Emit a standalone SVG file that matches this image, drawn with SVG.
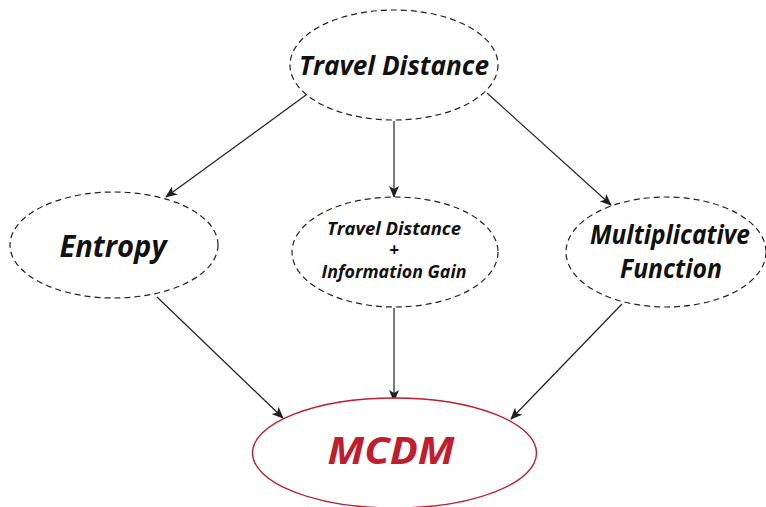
<svg xmlns="http://www.w3.org/2000/svg" width="766" height="507" viewBox="0 0 766 507">
  <style>
    .node { fill: #ffffff; stroke: #231f20; stroke-width: 1.2; stroke-dasharray: 6 4; }
    .final { fill: #ffffff; stroke: #be1e2d; stroke-width: 1.4; }
    .lbl { font-family: "Open Sans", "Noto Sans", sans-serif; font-weight: bold; font-style: italic; fill: #111111; text-anchor: middle; }
    .red { fill: #be1e2d; }
    .edge { stroke: #231f20; stroke-width: 1.2; fill: none; marker-end: url(#arrow); }
  </style>
  <defs>
    <marker id="arrow" viewBox="0 0 12 10" refX="11" refY="5" markerWidth="12" markerHeight="10" markerUnits="userSpaceOnUse" orient="auto">
      <path d="M0,0 L12,5 L0,10 L3,5 Z" fill="#231f20"/>
    </marker>
  </defs>
  <rect width="766" height="507" fill="#ffffff"/>

  <g id="connectors">
    <line class="edge" x1="306" y1="95" x2="166" y2="197"/>
    <line class="edge" x1="394" y1="121" x2="394" y2="197"/>
    <line class="edge" x1="487" y1="93" x2="611" y2="205"/>
    <line class="edge" x1="157" y1="297" x2="283" y2="418"/>
    <line class="edge" x1="394" y1="308" x2="394" y2="401"/>
    <line class="edge" x1="622" y1="304" x2="511" y2="419"/>
  </g>

  <g id="travel-distance">
    <ellipse class="node" cx="394" cy="65" rx="104" ry="55"/>
    <text class="lbl" x="394" y="75" font-size="27" textLength="190" lengthAdjust="spacingAndGlyphs">Travel Distance</text>
  </g>

  <g id="entropy">
    <ellipse class="node" cx="114" cy="245" rx="104" ry="53"/>
    <text class="lbl" x="113" y="257" font-size="30" textLength="107" lengthAdjust="spacingAndGlyphs">Entropy</text>
  </g>

  <g id="distance-plus-gain">
    <ellipse class="node" cx="395" cy="252" rx="103" ry="55"/>
    <text class="lbl" x="394" y="235" font-size="17" textLength="134" lengthAdjust="spacingAndGlyphs">Travel Distance</text>
    <text class="lbl" x="394" y="256" font-size="17" font-style="normal" font-weight="normal">+</text>
    <text class="lbl" x="394" y="278" font-size="17" textLength="145" lengthAdjust="spacingAndGlyphs">Information Gain</text>
  </g>

  <g id="multiplicative-function">
    <ellipse class="node" cx="666" cy="252" rx="100" ry="55"/>
    <text class="lbl" x="670" y="244" font-size="27" textLength="160" lengthAdjust="spacingAndGlyphs">Multiplicative</text>
    <text class="lbl" x="671" y="278" font-size="27" textLength="102" lengthAdjust="spacingAndGlyphs">Function</text>
  </g>

  <g id="mcdm">
    <ellipse class="final" cx="394.5" cy="453" rx="142" ry="55"/>
    <text class="lbl red" x="391" y="464" font-size="37" textLength="127" lengthAdjust="spacingAndGlyphs">MCDM</text>
  </g>
</svg>
